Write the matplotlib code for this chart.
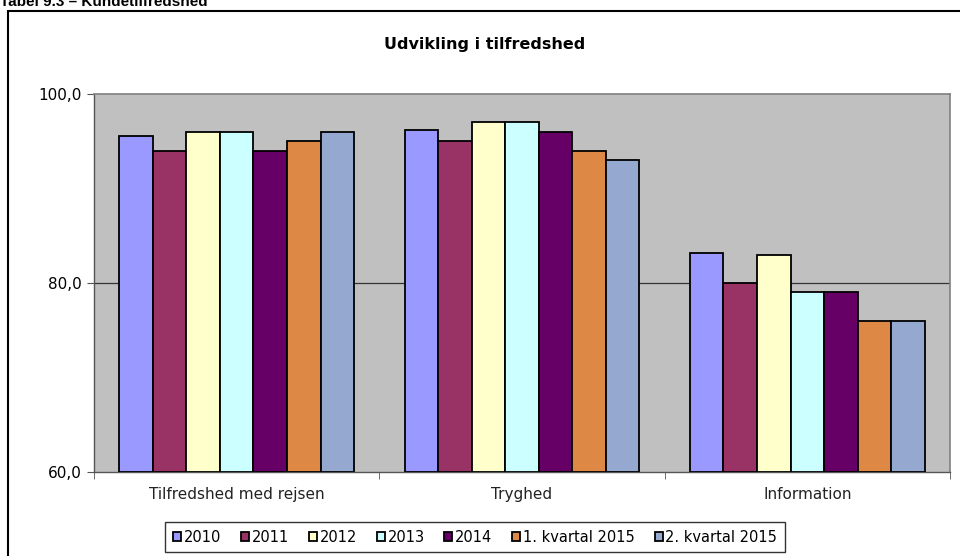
import numpy as np
import matplotlib.pyplot as plt
from matplotlib.patches import Rectangle

categories = ["Tilfredshed med rejsen", "Tryghed", "Information"]
series = ["2010", "2011", "2012", "2013", "2014", "1. kvartal 2015", "2. kvartal 2015"]
values = [
    [95.6, 96.2, 83.2],   # 2010
    [94.0, 95.0, 80.0],   # 2011
    [96.0, 97.0, 83.0],   # 2012
    [96.0, 97.0, 79.0],   # 2013
    [94.0, 96.0, 79.0],   # 2014
    [95.0, 94.0, 76.0],   # 1. kvartal 2015
    [96.0, 93.0, 76.0],   # 2. kvartal 2015
]
colors = ["#9999FF", "#993366", "#FFFFCC", "#CCFFFF", "#660066", "#DD8844", "#95A9D0"]
yticks = [60, 80, 100]

plt.rcParams['font.family'] = ['DejaVu Sans']

fig = plt.figure(figsize=(9.6, 5.56), dpi=100)

# chart border (runs off right and bottom of the picture)
fig.patches.append(Rectangle((8 / 960, -0.05), 1.0, 1 - 11 / 556 + 0.05,
                             transform=fig.transFigure, fill=False,
                             edgecolor="black", linewidth=1.5))

fig.text(0.0, 1 - 6 / 556, "Tabel 9.3 – Kundetilfredshed", fontsize=11,
         fontweight="bold", family="Liberation Sans", va="baseline", ha="left")

ax = fig.add_axes([94 / 960, 84 / 556, 856 / 960, 378 / 556])
ax.set_facecolor("#C0C0C0")

n = len(series)
bw = 1 / 8.5
x = np.arange(len(categories))
for i, (name, vals) in enumerate(zip(series, values)):
    offs = (i - (n - 1) / 2) * bw
    ax.bar(x + offs, np.array(vals) - 60, bottom=60, width=bw, color=colors[i],
           edgecolor="black", linewidth=1.3, label=name, zorder=3)

ax.set_xlim(-0.5, len(categories) - 0.5)
ax.set_ylim(60, 100)
ax.set_yticks(yticks)
ax.set_yticklabels([f"{v:.1f}".replace(".", ",") for v in yticks], fontsize=11)
ax.axhline(80, color="#333333", linewidth=0.9, zorder=1)

ax.set_xticks(x)
ax.set_xticklabels(categories, fontsize=11, color="#222222")
ax.set_xticks(np.arange(len(categories) + 1) - 0.5, minor=True)
ax.tick_params(axis="x", which="major", length=0, pad=11)
ax.tick_params(axis="x", which="minor", length=5, color="#555555", direction="out")
ax.tick_params(axis="y", length=5, color="#555555", direction="out", pad=4)

for side in ["top", "right"]:
    ax.spines[side].set_color("#808080")
    ax.spines[side].set_linewidth(1.2)
for side in ["left", "bottom"]:
    ax.spines[side].set_color("#555555")
    ax.spines[side].set_linewidth(1.0)

fig.text(485 / 960, 1 - 44 / 556, "Udvikling i tilfredshed", fontsize=11.5,
         fontweight="bold", ha="center", va="center")

leg = fig.legend(loc="center", bbox_to_anchor=(475 / 960, 1 - 537 / 556), ncol=7,
                 fontsize=10.5, frameon=True, fancybox=False, edgecolor="black",
                 handlelength=0.55, handleheight=0.55, handletextpad=0.2,
                 columnspacing=1.35, borderpad=0.5, borderaxespad=0)
leg.get_frame().set_linewidth(1.0)

fig.savefig("out.png", dpi=100)
